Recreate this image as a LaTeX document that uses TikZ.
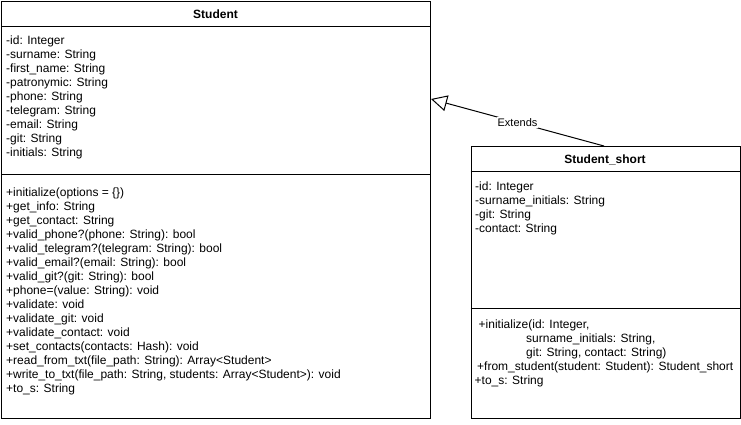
\documentclass[tikz,border=0pt]{standalone}
\usepackage{fontspec}
\setmainfont{Liberation Sans}
\usetikzlibrary{arrows.meta}
\begin{document}
\begin{tikzpicture}[x=1pt,y=-1pt,
  classbox/.style={draw=black, line width=1pt, fill=white, anchor=north west, inner sep=0pt},
  sepline/.style={draw=black, line width=1pt},
  member/.style={anchor=base west, inner sep=0pt, font=\fontsize{12}{14}\selectfont},
  title/.style={anchor=base, inner sep=0pt, font=\fontsize{12}{14}\selectfont\bfseries},
  extends/.style={draw=black, line width=1pt, -{Triangle[open, length=16pt, width=16pt, line width=1pt]}},
  edgelabel/.style={fill=white, inner sep=1pt, font=\fontsize{11}{13}\selectfont}]
\useasboundingbox[fill=white] (0,0) rectangle (741,424);

% Student
\node[classbox, minimum width=429pt, minimum height=417pt] (student) at (1,1) {};
\draw[sepline] (1,26) -- (430,26);
\draw[sepline] (1,174) -- (430,174);
\node[title] (stitle) at (215.5,18.3) {Student};
\foreach \t [count=\i from 0] in {-id: Integer, -surname: String, -first\_name: String, -patronymic: String, -phone: String, -telegram: String, -email: String, -git: String, -initials: String}
  \node[member] (sa\i) at (6,44+14*\i) {\t};
\node[member] (sm0)  at (6,196.7)       {+initialize(options = \{\})};
\node[member] (sm1)  at (6,196.7+14)    {+get\_info: String};
\node[member] (sm2)  at (6,196.7+28)    {+get\_contact: String};
\node[member] (sm3)  at (6,196.7+42)    {+valid\_phone?(phone: String): bool};
\node[member] (sm4)  at (6,196.7+56)    {+valid\_telegram?(telegram: String): bool};
\node[member] (sm5)  at (6,196.7+70)    {+valid\_email?(email: String): bool};
\node[member] (sm6)  at (6,196.7+84)    {+valid\_git?(git: String): bool};
\node[member] (sm7)  at (6,196.7+98)    {+phone=(value: String): void};
\node[member] (sm8)  at (6,196.7+112)   {+validate: void};
\node[member] (sm9)  at (6,196.7+126)   {+validate\_git: void};
\node[member] (sm10) at (6,196.7+140)   {+validate\_contact: void};
\node[member] (sm11) at (6,196.7+154)   {+set\_contacts(contacts: Hash): void};
\node[member] (sm12) at (6,196.7+168)   {+read\_from\_txt(file\_path: String): Array<Student>};
\node[member] (sm13) at (6,196.7+182)   {+write\_to\_txt(file\_path: String, students: Array<Student>): void};
\node[member] (sm14) at (6,196.7+196)   {+to\_s: String};

% Student_short
\node[classbox, minimum width=269pt, minimum height=272pt] (short) at (470.5,146) {};
\draw[sepline] (470.5,171) -- (739.5,171);
\draw[sepline] (470.5,308) -- (739.5,308);
\node[title] (sstitle) at (605,163.3) {Student\_short};
\node[member] (ssa0) at (475,190) {-id: Integer};
\node[member] (ssa1) at (475,204) {-surname\_initials: String};
\node[member] (ssa2) at (475,218) {-git: String};
\node[member] (ssa3) at (475,232) {-contact: String};
\node[member] (ssm0) at (478.5,328) {+initialize(id: Integer,};
\node[member] (ssm1) at (526,342) {surname\_initials: String,};
\node[member] (ssm2) at (526,356) {git: String, contact: String)};
\node[member] (ssm3) at (477,370) {+from\_student(student: Student): Student\_short};
\node[member] (ssm4) at (474.5,384) {+to\_s: String};

% Extends
\coordinate (tip) at ([yshift=-98pt]student.north east);
\draw[extends] ([xshift=-1.5pt]short.north) -- node[edgelabel, pos=0.5] (lbl) {Extends} (tip);
\end{tikzpicture}
\end{document}
